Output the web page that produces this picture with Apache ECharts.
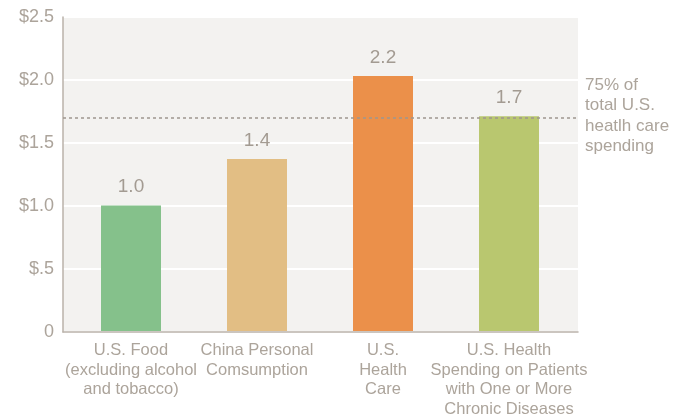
<!DOCTYPE html>
<html>
<head>
<meta charset="utf-8">
<script src="https://cdn.jsdelivr.net/npm/echarts@6/dist/echarts.min.js"></script>
<style>
  html, body { margin: 0; padding: 0; background: #fff; }
  #chart { width: 687px; height: 419px; }
</style>
</head>
<body>
<div id="chart"></div>
<script>
'use strict';

// data
var categories = [
    'U.S. Food\n(excluding alcohol\nand tobacco)',
    'China Personal\nComsumption',
    'U.S.\nHealth\nCare',
    'U.S. Health\nSpending on Patients\nwith One or More\nChronic Diseases'
];
var barValues = [1.0, 1.37, 2.03, 1.71];   // bar heights as drawn
var barLabels = ['1.0', '1.4', '2.2', '1.7']; // printed labels
var barColors = ['#85c18b', '#e2be84', '#eb904a', '#b9c76f'];
var yTickLabels = ['0', '$.5', '$1.0', '$1.5', '$2.0', '$2.5'];
var refValue = 1.7;
var refNote = '75% of\ntotal U.S.\nheatlh care\nspending';

var textColor = '#aca49b';
var font = 'Liberation Sans, Arial, sans-serif';

var chart = echarts.init(document.getElementById('chart'));

var option = {
    animation: false,
    grid: [
        // frame: background, gridlines, axis lines, reference line
        { left: 63, right: 109, top: 17, bottom: 87, show: true, backgroundColor: '#f3f2f0', borderWidth: 0 },
        // bars sit on a slightly narrower band so they land where the original has them
        { left: 68, right: 115, top: 17, bottom: 87 }
    ],
    xAxis: [
        {
            gridIndex: 0,
            type: 'category',
            data: categories,
            axisLine: { lineStyle: { color: '#bab2aa', width: 1.5 } },
            axisTick: { show: false },
            axisLabel: { show: false }
        },
        {
            gridIndex: 1,
            type: 'category',
            data: categories,
            axisLine: { show: false },
            axisTick: { show: false },
            axisLabel: {
                color: textColor,
                fontFamily: font,
                fontSize: 16.5,
                lineHeight: 19.5,
                margin: 10,
                interval: 0
            }
        }
    ],
    yAxis: [
        {
            gridIndex: 0,
            type: 'value',
            min: 0,
            max: 2.5,
            interval: 0.5,
            axisLine: { show: true, lineStyle: { color: '#bab2aa', width: 1.5 } },
            axisTick: { show: false },
            splitLine: { lineStyle: { color: '#ffffff', width: 2 } },
            axisLabel: {
                color: textColor,
                fontFamily: font,
                fontSize: 18,
                margin: 9,
                formatter: function (v, i) { return yTickLabels[i]; }
            }
        },
        {
            gridIndex: 1,
            type: 'value',
            min: 0,
            max: 2.5,
            interval: 0.5,
            show: false,
            splitLine: { show: false }
        }
    ],
    series: [
        {
            // dotted reference line, kept behind the bars
            type: 'line',
            xAxisIndex: 0,
            yAxisIndex: 0,
            data: [],
            z: 1,
            silent: true,
            markLine: {
                symbol: 'none',
                silent: true,
                label: { show: false },
                lineStyle: { color: '#9e968e', width: 1.5, type: [3, 3] },
                data: [{ yAxis: refValue }]
            }
        },
        {
            type: 'bar',
            xAxisIndex: 1,
            yAxisIndex: 1,
            z: 3,
            barWidth: 60,
            data: barValues.map(function (v, i) {
                return { value: v, itemStyle: { color: barColors[i] } };
            }),
            label: {
                show: true,
                position: 'top',
                distance: 9,
                color: '#a39b92',
                fontFamily: font,
                fontSize: 19,
                formatter: function (p) { return barLabels[p.dataIndex]; }
            }
        }
    ],
    graphic: [{
        type: 'text',
        left: 585,
        top: 75,
        style: {
            text: refNote,
            fill: textColor,
            font: '17px ' + font,
            lineHeight: 20.5
        }
    }]
};

chart.setOption(option);
</script>
</body>
</html>
